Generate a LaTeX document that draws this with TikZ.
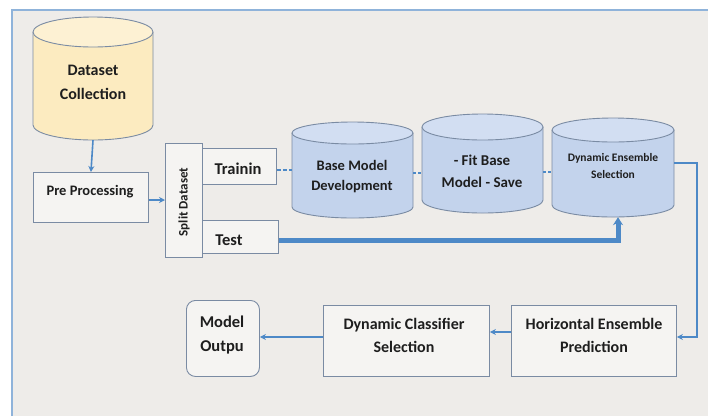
\documentclass[tikz,border=0pt]{standalone}
\usepackage{fontspec}
\setmainfont{Carlito}
\usetikzlibrary{arrows.meta,positioning,calc}
\definecolor{bgc}{HTML}{EEECE9}
\definecolor{framec}{HTML}{8FB3DA}
\definecolor{edgec}{HTML}{7A8BA3}
\definecolor{cylblue}{HTML}{C3D3EC}
\definecolor{cyltop}{HTML}{D2DEF2}
\definecolor{cylyel}{HTML}{FCEBC0}
\definecolor{cylyeltop}{HTML}{FDF1D3}
\definecolor{arrc}{HTML}{4D89C7}
\definecolor{txt}{HTML}{1E1E1E}
\tikzset{
  lbl/.style={font=\bfseries, text=txt, align=center, inner sep=0pt},
  boxn/.style={draw=edgec, line width=0.9pt, fill=bgc!60!white, inner sep=0pt},
  conn/.style={draw=arrc, line width=1.6pt, -{Stealth[length=6pt,width=6pt]}},
  thick conn/.style={draw=arrc, line width=5pt, -{Stealth[length=8pt,width=10pt]}},
}
\newcommand\fsz[2]{\bfseries\fontsize{#1}{#2}\selectfont}
% cylinder: #1 name, #2 x1, #3 x2, #4 top, #5 bottom, #6 ry, #7 body fill, #8 top fill
\newcommand\mycyl[8]{%
  \pgfmathsetmacro\rx{(#3-#2)/2}%
  \pgfmathsetmacro\cx{(#3+#2)/2}%
  \fill[#7] (#2,-#4-#6) -- (#2,-#5+#6) arc[start angle=180,end angle=360,x radius=\rx pt,y radius=#6 pt] -- (#3,-#4-#6) -- cycle;
  \draw[edgec,line width=0.9pt] (#2,-#4-#6) -- (#2,-#5+#6) arc[start angle=180,end angle=360,x radius=\rx pt,y radius=#6 pt] -- (#3,-#4-#6);
  \draw[edgec,line width=0.9pt,fill=#8] (\cx,-#4-#6) ellipse[x radius=\rx pt,y radius=#6 pt];
  \node[minimum width={#3-#2}, minimum height={#5-#4}, inner sep=0pt] (#1) at (\cx,{-(#4+#5)/2}) {};
}
\begin{document}
\begin{tikzpicture}[x=1pt,y=1pt]
\useasboundingbox (0,0) rectangle (708,-416);
\fill[white] (0,0) rectangle (708,-416);
\fill[bgc] (12,-10) rectangle (708,-416);
\draw[framec,line width=2pt] (12,-416) -- (12,-10) -- (708,-10);

% cylinders
\mycyl{ds}{33}{153}{17}{140}{15}{cylyel}{cylyeltop}
\node[lbl,font=\fsz{16}{24}] at (93,-82) {Dataset\\Collection};

\mycyl{bm}{292}{413}{122}{218}{11}{cylblue}{cyltop}
\node[lbl,font=\fsz{14.5}{20}] at (352,-177) {Base Model\\Development};

\mycyl{fb}{422}{543}{114}{213}{13}{cylblue}{cyltop}
\node[lbl,font=\fsz{15}{22}] at (482,-171) {- Fit Base\\Model - Save};

\mycyl{des}{552}{674}{118}{217}{12}{cylblue}{cyltop}
\node[lbl,font=\fsz{11.5}{17}] at (613,-166) {Dynamic Ensemble\\Selection};

% boxes
\node[boxn, minimum width=115, minimum height=50, anchor=north west] (pp) at (33,-172) {};
\node[lbl,font=\fsz{14.5}{17}] at (90,-192) {Pre Processing};

\node[boxn, minimum width=37, minimum height=114, anchor=north west] (sd) at (165,-143) {};
\node[lbl,font=\fsz{13}{15},rotate=90] at (184,-202) {Split Dataset};

\node[boxn, minimum width=74, minimum height=36, anchor=north west] (tr) at (202,-148) {};
\node[lbl,font=\fsz{16.5}{19}] at (238,-169) {Trainin};

\node[boxn, minimum width=76, minimum height=33, anchor=north west] (te) at (202,-220) {};
\node[lbl,font=\fsz{16.5}{19}] at (229,-240) {Test};

\node[boxn, minimum width=165, minimum height=71, anchor=north west] (hep) at (511,-305) {};
\node[lbl,font=\fsz{16}{23}] at (594,-335) {Horizontal Ensemble\\Prediction};

\node[boxn, minimum width=166, minimum height=71, anchor=north west] (dcs) at (323,-305) {};
\node[lbl,font=\fsz{16}{23}] at (404,-335) {Dynamic Classifier\\Selection};

\node[boxn, rounded corners=9pt, minimum width=73, minimum height=76, anchor=north west] (mo) at (186,-300) {};
\node[lbl,font=\fsz{16.5}{24}] at (222,-335) {Model\\Outpu};

% connectors
\draw[conn] (ds.south) -- (pp.north);
\draw[conn] (pp.east |- 0,-200) -- (sd.west |- 0,-200);
\draw[arrc, line width=1.6pt, dashed, dash pattern=on 4pt off 2pt] (tr.east |- 0,-170) -- (bm.west |- 0,-170);
\draw[arrc, line width=1.6pt, dashed, dash pattern=on 3pt off 2pt] (bm.east |- 0,-173) -- (fb.west |- 0,-173);
\draw[arrc, line width=1.6pt, dashed, dash pattern=on 3pt off 2pt] (fb.east |- 0,-172) -- (des.west |- 0,-172);
\coordinate (tcorner) at (618,-240);
\draw[thick conn, line join=miter] (te.east |- 0,-240) -- (tcorner) -- (tcorner |- des.south);
\coordinate (rc1) at (697,-163);
\coordinate (rc2) at (697,-337);
\draw[conn, line join=miter] (des.east |- rc1) -- (rc1) -- (rc2) -- (hep.east |- rc2);
\draw[conn] (hep.west |- 0,-332) -- (dcs.east |- 0,-332);
\draw[conn] (dcs.west |- 0,-337) -- (mo.east |- 0,-337);
\end{tikzpicture}
\end{document}
